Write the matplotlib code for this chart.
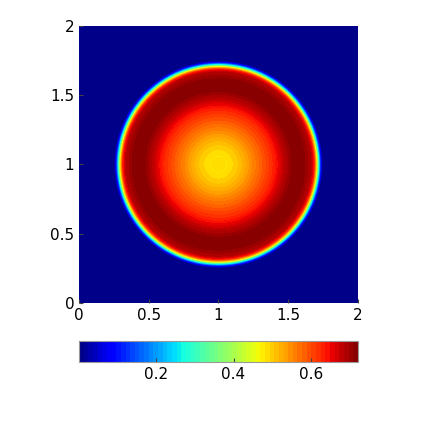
import numpy as np
import matplotlib
matplotlib.use("Agg")
import matplotlib.pyplot as plt

# radial profile (distance from centre (1,1) -> value)
radius = [0.0, 0.06, 0.13, 0.20, 0.30, 0.40, 0.47, 0.55, 0.62, 0.665,
          0.685, 0.70, 0.715, 0.73, 0.745, 2.0]
value = [0.490, 0.480, 0.500, 0.530, 0.580, 0.630, 0.680, 0.722, 0.710, 0.685,
         0.630, 0.500, 0.300, 0.110, 0.0, 0.0]
centre = (1.0, 1.0)
n_levels = 60
x_ticks = [0, 0.5, 1, 1.5, 2]
cbar_ticks = [0.2, 0.4, 0.6]

x = np.linspace(0, 2, 401)
X, Y = np.meshgrid(x, x)
R = np.hypot(X - centre[0], Y - centre[1])
Z = np.interp(R, radius, value)

fig = plt.figure(figsize=(4.23, 4.23), dpi=100)
ax = fig.add_axes([0.187, 0.284, 0.659, 0.655])
levels = np.linspace(0, max(value), n_levels + 1)
cs = ax.contourf(X, Y, Z, levels=levels, cmap="jet")
ax.set_xlim(0, 2)
ax.set_ylim(0, 2)
ax.set_xticks(x_ticks)
ax.set_yticks(x_ticks)
ax.set_xticklabels(["0", "0.5", "1", "1.5", "2"])
ax.set_yticklabels(["0", "0.5", "1", "1.5", "2"])
ax.tick_params(direction="in", labelsize=11, length=3, color="#444444")
for s in ax.spines.values():
    s.set_visible(False)

cax = fig.add_axes([0.187, 0.144, 0.659, 0.05])
cb = fig.colorbar(cs, cax=cax, orientation="horizontal")
cb.set_ticks(cbar_ticks)
cb.set_ticklabels(["0.2", "0.4", "0.6"])
cax.tick_params(direction="in", labelsize=11, length=3, color="#444444")
cb.outline.set_edgecolor("#999999")

fig.savefig("out.png", dpi=100)
